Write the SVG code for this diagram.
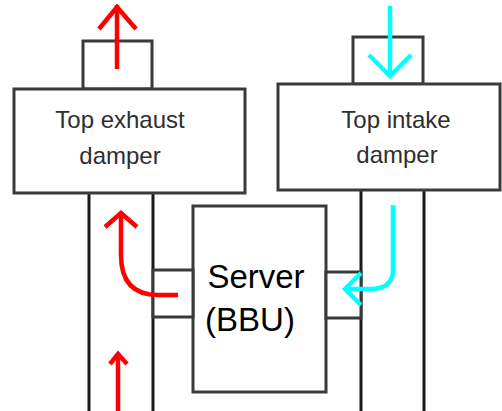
<svg xmlns="http://www.w3.org/2000/svg" width="502" height="411" viewBox="0 0 502 411">
  <style>
    .box { fill: #ffffff; stroke: #3a3a3a; stroke-width: 3; }
    .duct { fill: none; stroke: #1a1a1a; stroke-width: 3; }
    .lbl { font-family: "Liberation Sans", Arial, sans-serif; fill: #2e2e2e; text-anchor: middle; }
    .srv { font-family: "Liberation Sans", Arial, sans-serif; fill: #000000; text-anchor: middle; }
    .hot { fill: none; stroke: #ff0000; stroke-width: 4.5; stroke-linecap: butt; stroke-linejoin: miter; }
    .cold { fill: none; stroke: #00ffff; stroke-width: 4.5; stroke-linecap: butt; stroke-linejoin: miter; }
  </style>

  <!-- duct walls -->
  <g id="ducts">
    <line class="duct" x1="89" y1="193" x2="89" y2="411"/>
    <line class="duct" x1="153" y1="193" x2="153" y2="411"/>
    <line class="duct" x1="361" y1="190" x2="361" y2="411"/>
    <line class="duct" x1="424" y1="190" x2="424" y2="411"/>
  </g>

  <!-- left exhaust column -->
  <g id="exhaust-outlet">
    <rect class="box" x="83" y="41" width="69" height="48"/>
  </g>
  <g id="top-exhaust-damper">
    <rect class="box" x="14" y="89" width="231" height="104"/>
    <text class="lbl" x="120" y="128" font-size="24">Top exhaust</text>
    <text class="lbl" x="120" y="164" font-size="24">damper</text>
  </g>

  <!-- right intake column -->
  <g id="intake-inlet">
    <rect class="box" x="353" y="37" width="70" height="47"/>
  </g>
  <g id="top-intake-damper">
    <rect class="box" x="278" y="84" width="222" height="106"/>
    <text class="lbl" x="396" y="128" font-size="24">Top intake</text>
    <text class="lbl" x="397" y="163" font-size="24">damper</text>
  </g>

  <!-- server and its duct couplings -->
  <g id="server">
    <rect class="box" x="193" y="206" width="133" height="186"/>
    <text class="srv" x="256" y="288" font-size="33">Server</text>
    <text class="srv" x="250" y="331" font-size="33">(BBU)</text>
  </g>
  <g id="exhaust-coupling">
    <rect class="box" x="153" y="270" width="40" height="47"/>
  </g>
  <g id="intake-coupling">
    <rect class="box" x="326" y="272" width="35" height="46"/>
  </g>

  <!-- airflow arrows -->
  <g id="connectors">
    <!-- exhaust out the top -->
    <line class="hot" x1="117" y1="69" x2="117" y2="5"/>
    <polyline class="hot" points="99,29 117,7 136,29"/>
    <!-- hot air leaving the server -->
    <path class="hot" d="M178,295 L158,295 Q121,295 121,255 L121,215"/>
    <polyline class="hot" points="105,227 121,213 137,227"/>
    <!-- hot air rising from below -->
    <line class="hot" x1="118" y1="411" x2="118" y2="354"/>
    <polyline class="hot" points="110,364 118,354 127,364"/>
    <!-- intake down the top -->
    <line class="cold" x1="390" y1="6" x2="390" y2="76"/>
    <polyline class="cold" points="369,55 390,76 411,55"/>
    <!-- cool air feeding the server -->
    <path class="cold" d="M393,205 L393,270 Q393,289 370,289 L346,289"/>
    <polyline class="cold" points="361,273 345,289 361,305"/>
  </g>
</svg>
